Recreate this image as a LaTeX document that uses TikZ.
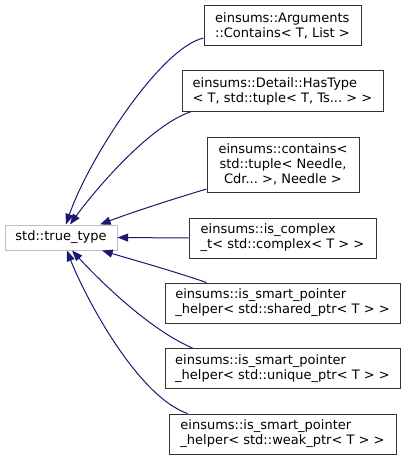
\documentclass[tikz,border=0pt]{standalone}
\usepackage{fontspec}
\setmainfont{DejaVu Sans}
\frenchspacing
\usetikzlibrary{arrows.meta,calc}
\definecolor{edgeblue}{HTML}{191970}
\definecolor{rootgray}{HTML}{BFBFBF}
\begin{document}
\begin{tikzpicture}[x=0.75pt,y=-0.75pt,
  every node/.style={font=\fontsize{9.75pt}{11.25pt}\selectfont, inner sep=0pt},
  cls/.style={draw=black!80, line width=0.75pt, fill=white, align=left, minimum height=30pt},
  root/.style={draw=rootgray, line width=0.75pt, fill=white, minimum width=84pt, minimum height=18.75pt},
  edge/.style={draw=edgeblue, line width=0.75pt, -{Triangle[length=8pt,width=6pt]}}]
\useasboundingbox (0,0) rectangle (405,460);

\node[root] (tt) at (61,237.5) {std::true\_type};

\node[cls, minimum width=117.75pt] (b1) at (282.5,26) {einsums::Arguments\\::Contains< T, List >};
\node[cls, minimum width=150.75pt] (b2) at (282.5,91) {einsums::Detail::HasType\\< T, std::tuple< T, Ts...\ > >};
\node[cls, minimum width=114pt, minimum height=41.25pt, align=center] (b3) at (283,164.5) {einsums::contains<\\std::tuple< Needle,\\Cdr...\ >, Needle >};
\node[cls, minimum width=140.25pt] (b4) at (282.5,238) {einsums::is\_complex\\\_t< std::complex< T > >};
\node[cls, minimum width=176.25pt] (b5) at (282.5,303) {einsums::is\_smart\_pointer\\\_helper< std::shared\_ptr< T > >};
\node[cls, minimum width=176.25pt] (b6) at (282.5,368.5) {einsums::is\_smart\_pointer\\\_helper< std::unique\_ptr< T > >};
\node[cls, minimum width=170.25pt] (b7) at (282.5,434) {einsums::is\_smart\_pointer\\\_helper< std::weak\_ptr< T > >};

\draw[edge] ($(b1.west)+(0,12)$) .. controls (160,48) and (88,160) .. ($(tt.north)+(5,0)$);
\draw[edge] ($(b2.south west)+(10,0)$) .. controls (150,125) and (95,190) .. ($(tt.north)+(9,0)$);
\draw[edge] ($(b3.west)+(0,24.5)$) .. controls (170,200) and (130,213) .. ($(tt.north)+(39,0)$);
\draw[edge] (b4.west) -- (tt.east);
\draw[edge] ($(b5.north west)+(42,0)$) .. controls (170,270) and (130,259) .. ($(tt.south)+(41,0)$);
\draw[edge] ($(b6.north west)+(28,0)$) .. controls (150,330) and (100,281) .. ($(tt.south)+(11,0)$);
\draw[edge] ($(b7.north west)+(19,0)$) .. controls (135,395) and (82,290) .. ($(tt.south)+(6,0)$);
\end{tikzpicture}
\end{document}
